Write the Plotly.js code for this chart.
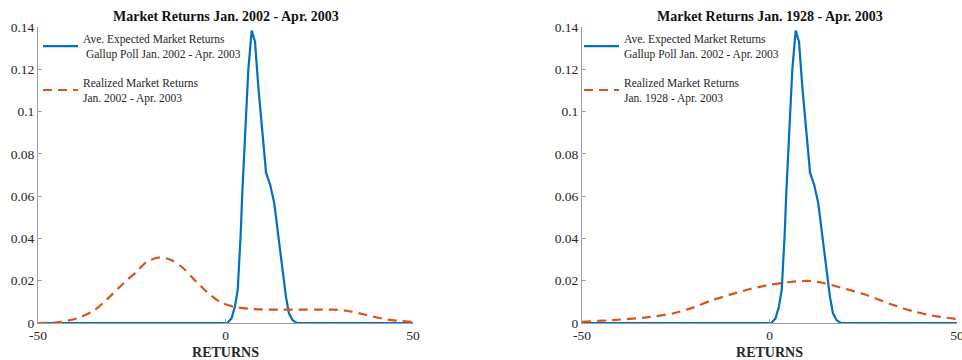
<!DOCTYPE html>
<html>
<head>
<meta charset="utf-8">
<script src="https://cdn.plot.ly/plotly-3.0.1.min.js"></script>
<style>html,body{margin:0;padding:0;background:#fff;}#chart{width:962px;height:360px;}</style>
</head>
<body>
<div id="chart"></div>
<script>
// Expected returns density (Gallup Poll Jan. 2002 - Apr. 2003) - same in both panels
const expectedX = [-50, 0.5, 1.6, 2.5, 3.25, 3.6, 4.05, 4.5, 4.93, 5.38, 6.08, 6.98, 7.87, 8.75, 9.8, 10.4, 10.8, 11.3, 11.9, 13.0, 14.1, 15.2, 16.1, 16.9, 17.9, 19.0, 50];
const expectedY = [0, 0, 0.0022, 0.0077, 0.0155, 0.0265, 0.042, 0.0625, 0.080, 0.096, 0.1197, 0.1383, 0.133, 0.1118, 0.0913, 0.079, 0.0712, 0.0685, 0.0655, 0.0567, 0.041, 0.0252, 0.0126, 0.0047, 0.0013, 0, 0];

// Realized returns density, Jan. 2002 - Apr. 2003
const realized02X = [-50, -45, -40, -35, -31.7, -27.2, -23.7, -21, -17.5, -14.8, -11.7, -8.6, -5, -1.5, 2.1, 7.4, 15.4, 28.8, 32.3, 37.6, 43, 50];
const realized02Y = [0, 0.0003, 0.002, 0.006, 0.011, 0.0188, 0.0243, 0.029, 0.031, 0.030, 0.0266, 0.021, 0.0148, 0.010, 0.0077, 0.0066, 0.0063, 0.0063, 0.0058, 0.0038, 0.0017, 0.0005];

// Realized returns density, Jan. 1928 - Apr. 2003
const realized28X = [-50, -41.6, -32.7, -25.6, -20.2, -15.8, -10.5, -5.1, 0.2, 5.5, 10, 14.4, 18.9, 25.1, 32.2, 38.4, 44.7, 50];
const realized28Y = [0.0006, 0.0014, 0.0027, 0.0046, 0.0074, 0.0105, 0.0134, 0.0161, 0.0181, 0.0194, 0.0199, 0.0189, 0.0168, 0.0137, 0.009, 0.0055, 0.0031, 0.0019];

const xTickVals = [-50, 0, 50];
const xTickText = ['-50', '0', '50'];
const yTickVals = [0, 0.02, 0.04, 0.06, 0.08, 0.1, 0.12, 0.14];
const yTickText = ['0', '0.02', '0.04', '0.06', '0.08', '0.1', '0.12', '0.14'];

const titleLeft = 'Market Returns Jan. 2002 - Apr. 2003';
const titleRight = 'Market Returns Jan. 1928 - Apr. 2003';
const nameExpected = 'Ave. Expected Market Returns<br>\u00a0Gallup Poll Jan. 2002 - Apr. 2003';
const nameExpected2 = 'Ave. Expected Market Returns<br>Gallup Poll Jan. 2002 - Apr. 2003';
const nameRealized02 = 'Realized Market Returns<br>Jan. 2002 - Apr. 2003';
const nameRealized28 = 'Realized Market Returns<br>Jan. 1928 - Apr. 2003';

const BLUE = '#0072BD', ORANGE = '#D95319';
const FONT = 'Liberation Serif, Times New Roman, serif';

const traces = [
  {x: expectedX, y: expectedY, xaxis: 'x', yaxis: 'y', mode: 'lines', name: nameExpected,
   line: {color: BLUE, width: 2.2}, legend: 'legend', legendgroup: 'a'},
  {x: realized02X, y: realized02Y, xaxis: 'x', yaxis: 'y', mode: 'lines', name: nameRealized02,
   line: {color: ORANGE, width: 2.2, dash: '9px,6px', shape: 'spline', smoothing: 0.8}, legend: 'legend', legendgroup: 'b'},
  {x: expectedX, y: expectedY, xaxis: 'x2', yaxis: 'y2', mode: 'lines', name: nameExpected2,
   line: {color: BLUE, width: 2.2}, legend: 'legend2', legendgroup: 'c'},
  {x: realized28X, y: realized28Y, xaxis: 'x2', yaxis: 'y2', mode: 'lines', name: nameRealized28,
   line: {color: ORANGE, width: 2.2, dash: '9px,6px', shape: 'spline', smoothing: 0.8}, legend: 'legend2', legendgroup: 'd'}
];

function xAxis(domain, anchor) {
  return {
    domain: domain, anchor: anchor, range: [-50, 50], autorange: false,
    tickmode: 'array', tickvals: xTickVals, ticktext: xTickText,
    showgrid: false, zeroline: false, showline: true, linecolor: '#a0a0a0', linewidth: 1,
    ticks: 'inside', ticklen: 4, tickcolor: '#a0a0a0', ticklabeloverflow: 'allow',
    tickfont: {family: FONT, size: 13.5, color: '#262626'},
    title: {text: '<b>RETURNS</b>', font: {family: FONT, size: 14, color: '#262626'}, standoff: 4},
    automargin: false, fixedrange: true
  };
}
function yAxis(anchor) {
  return {
    anchor: anchor, range: [0, 0.14], autorange: false,
    tickmode: 'array', tickvals: yTickVals, ticktext: yTickText,
    showgrid: false, zeroline: false, showline: true, linecolor: '#a0a0a0', linewidth: 1,
    ticks: 'inside', ticklen: 4, tickcolor: '#a0a0a0', ticklabeloverflow: 'allow',
    tickfont: {family: FONT, size: 13.5, color: '#262626'},
    automargin: false, fixedrange: true
  };
}
function legendAt(xpx) {
  return {
    x: xpx / 962, xanchor: 'left', y: 1.008, yanchor: 'top',
    bgcolor: 'rgba(0,0,0,0)', borderwidth: 0,
    font: {family: FONT, size: 11.5, color: '#262626'},
    itemwidth: 35, tracegroupgap: 11, traceorder: 'grouped'
  };
}

const layout = {
  width: 962, height: 360,
  margin: {l: 0, r: 0, t: 27, b: 37},
  paper_bgcolor: '#fff', plot_bgcolor: '#fff',
  showlegend: true,
  xaxis: xAxis([38/962, 413/962], 'y'),
  yaxis: yAxis('x'),
  xaxis2: xAxis([582/962, 957/962], 'y2'),
  yaxis2: yAxis('x2'),
  legend: legendAt(38),
  legend2: legendAt(579),
  annotations: [
    {text: '<b>' + titleLeft + '</b>', xref: 'x domain', yref: 'paper', x: 0.5, y: 1.037,
     xanchor: 'center', yanchor: 'middle', showarrow: false, font: {family: FONT, size: 14, color: '#111'}},
    {text: '<b>' + titleRight + '</b>', xref: 'x2 domain', yref: 'paper', x: 0.5, y: 1.037,
     xanchor: 'center', yanchor: 'middle', showarrow: false, font: {family: FONT, size: 14, color: '#111'}}
  ]
};

Plotly.newPlot('chart', traces, layout, {displayModeBar: false, staticPlot: true});
</script>
</body>
</html>
